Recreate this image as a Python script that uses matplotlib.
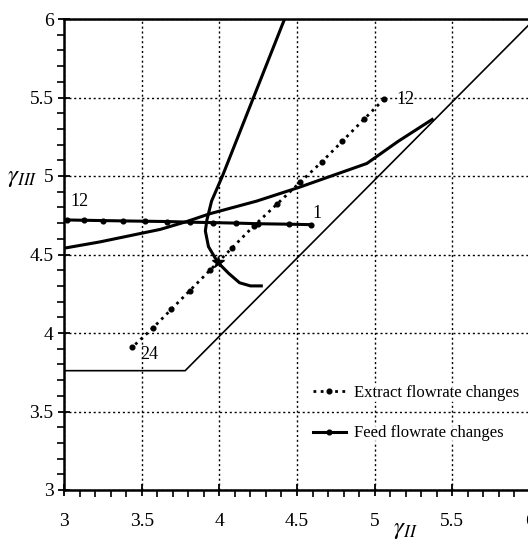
import matplotlib
matplotlib.use("Agg")
import matplotlib.pyplot as plt
from matplotlib.ticker import MultipleLocator, FormatStrFormatter

plt.rcParams["font.family"] = "Liberation Serif"
plt.rcParams["mathtext.fontset"] = "stix"

# boundary of the complete separation region
bound_x = [3.0, 3.78, 6.0]
bound_y = [3.76, 3.76, 5.97]

# upper curve of the region (thick)
curve_x = [4.42, 4.22, 4.02, 3.95, 3.92, 3.91, 3.93, 3.99, 4.06, 4.13, 4.20, 4.28]
curve_y = [6.00, 5.50, 5.00, 4.84, 4.72, 4.65, 4.55, 4.45, 4.38, 4.32, 4.30, 4.30]

# operating line (thick, no markers)
op_x = [3.0, 3.23, 3.62, 3.79, 3.94, 4.24, 4.52, 4.95, 5.15, 5.37]
op_y = [4.54, 4.58, 4.66, 4.71, 4.76, 4.84, 4.93, 5.08, 5.22, 5.36]

# extract flowrate changes, runs 12..24
extract_x = [5.06, 4.93, 4.79, 4.66, 4.52, 4.37, 4.22, 4.08, 3.94, 3.81, 3.69, 3.57, 3.44]
extract_y = [5.49, 5.36, 5.22, 5.09, 4.96, 4.82, 4.68, 4.54, 4.40, 4.27, 4.15, 4.03, 3.91]

# feed flowrate changes, runs 1..12
feed_x = [4.59, 4.45, 4.25, 4.11, 3.96, 3.81, 3.66, 3.52, 3.38, 3.25, 3.13, 3.02]
feed_y = [4.69, 4.693, 4.696, 4.70, 4.703, 4.706, 4.71, 4.712, 4.714, 4.716, 4.718, 4.72]

# optimum point
opt_x, opt_y = 3.99, 4.45

fig = plt.figure(figsize=(5.28, 5.52), dpi=100)
ax = fig.add_axes([64 / 528, 62 / 552, 466 / 528, 471 / 552])

ax.plot(bound_x, bound_y, color="black", lw=1.2)
ax.plot(curve_x, curve_y, color="black", lw=2.2, solid_capstyle="butt")
ax.plot(op_x, op_y, color="black", lw=2.2)
ext_line, = ax.plot(extract_x, extract_y, color="black", lw=2.0, ls=(0, (1, 1.6)),
                    marker="o", ms=3.4, label="Extract flowrate changes")
feed_line, = ax.plot(feed_x, feed_y, color="black", lw=2.2,
                     marker="o", ms=3.4, label="Feed flowrate changes")
ax.plot(opt_x, opt_y, marker="*", ms=9, color="black")

# run numbers at the ends of each series
ax.text(extract_x[0] + 0.08, extract_y[0], "12", fontsize=13, va="center", ha="left")
ax.text(extract_x[-1] + 0.05, extract_y[-1] - 0.05, "24", fontsize=13, va="center", ha="left")
ax.text(feed_x[0] + 0.01, feed_y[0] + 0.07, "1", fontsize=13, va="center", ha="left")
ax.text(feed_x[-1] + 0.02, feed_y[-1] + 0.12, "12", fontsize=13, va="center", ha="left")

ax.set_xlim(3, 6)
ax.set_ylim(3, 6)
ax.xaxis.set_major_locator(MultipleLocator(0.5))
ax.yaxis.set_major_locator(MultipleLocator(0.5))
ax.xaxis.set_minor_locator(MultipleLocator(0.1))
ax.yaxis.set_minor_locator(MultipleLocator(0.1))
ax.xaxis.set_major_formatter(FormatStrFormatter("%g"))
ax.yaxis.set_major_formatter(FormatStrFormatter("%g"))
ax.tick_params(which="major", direction="inout", length=9, width=1.3, labelsize=14)
ax.tick_params(axis="x", which="major", pad=12)
ax.tick_params(axis="y", which="major", pad=3)
ax.tick_params(which="minor", direction="out", length=5, width=1.2)
ax.grid(True, which="major", color="black", ls=(0, (1.5, 2)), lw=1.0)

for side in ["left", "bottom", "top"]:
    ax.spines[side].set_linewidth(1.8)
ax.spines["right"].set_visible(False)

fig.text(22 / 528, 1 - 178 / 552, r"$\gamma_{III}$", fontsize=18, ha="center", va="center")
fig.text(405 / 528, 1 - 530 / 552, r"$\gamma_{II}$", fontsize=18, ha="center", va="center")

# two separate legend entries, each on its own white patch
leg1 = ax.legend(handles=[ext_line], loc="center left", bbox_to_anchor=(0.53, 0.207),
                 frameon=True, fontsize=12, handlelength=2.0, handletextpad=0.5,
                 borderpad=0.1, borderaxespad=0, fancybox=False)
leg1.get_frame().set_edgecolor("none")
leg1.get_frame().set_facecolor("white")
ax.add_artist(leg1)
leg2 = ax.legend(handles=[feed_line], loc="center left", bbox_to_anchor=(0.53, 0.12),
                 frameon=True, fontsize=12, handlelength=2.0, handletextpad=0.5,
                 borderpad=0.1, borderaxespad=0, fancybox=False)
leg2.get_frame().set_edgecolor("none")
leg2.get_frame().set_facecolor("white")

fig.savefig("out.png", dpi=100)
